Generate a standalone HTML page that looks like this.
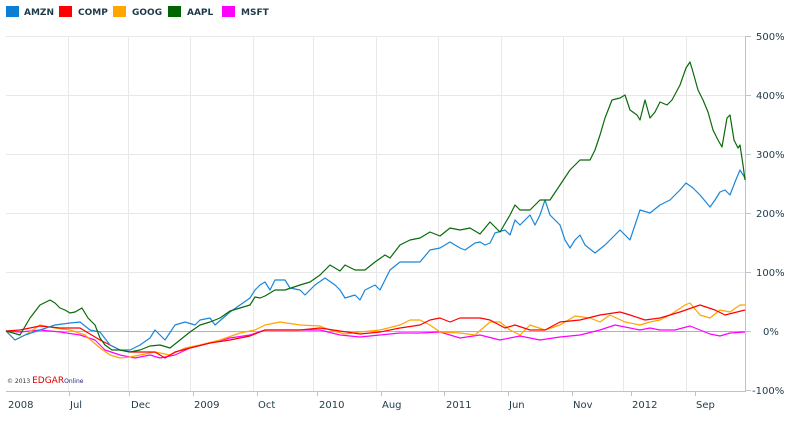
<!DOCTYPE html><html><head><style>
body{margin:0;background:#fff;width:805px;height:416px;overflow:hidden;font-family:"Liberation Sans",sans-serif}
</style></head><body>
<svg width="805" height="416" xmlns="http://www.w3.org/2000/svg" font-family="'DejaVu Sans','Liberation Sans',sans-serif">
<g font-size="9" font-weight="bold" fill="#1e3a4a">
<rect x="6" y="6" width="13" height="11" fill="#0a7fd4"/><text x="24" y="15">AMZN</text>
<rect x="59" y="6" width="13" height="11" fill="#f00"/><text x="78" y="15">COMP</text>
<rect x="113" y="6" width="13" height="11" fill="#ffa500"/><text x="132" y="15">GOOG</text>
<rect x="168" y="6" width="13" height="11" fill="#006400"/><text x="187" y="15">AAPL</text>
<rect x="222" y="6" width="13" height="11" fill="#f0f"/><text x="241" y="15">MSFT</text>
</g>
<g stroke="#e8e8e8" stroke-width="1">
<line x1="6" y1="36.5" x2="745" y2="36.5"/><line x1="6" y1="95.5" x2="745" y2="95.5"/><line x1="6" y1="154.5" x2="745" y2="154.5"/><line x1="6" y1="213.5" x2="745" y2="213.5"/><line x1="6" y1="272.5" x2="745" y2="272.5"/>
<line x1="68.5" y1="36" x2="68.5" y2="391"/><line x1="128.5" y1="36" x2="128.5" y2="391"/><line x1="190.5" y1="36" x2="190.5" y2="391"/><line x1="253.5" y1="36" x2="253.5" y2="391"/><line x1="313.5" y1="36" x2="313.5" y2="391"/><line x1="376.5" y1="36" x2="376.5" y2="391"/><line x1="438.5" y1="36" x2="438.5" y2="391"/><line x1="501.5" y1="36" x2="501.5" y2="391"/><line x1="563.5" y1="36" x2="563.5" y2="391"/><line x1="623.5" y1="36" x2="623.5" y2="391"/><line x1="686.5" y1="36" x2="686.5" y2="391"/>
</g>
<line x1="6" y1="331.5" x2="745" y2="331.5" stroke="#a8b4c0"/>
<g stroke="#b8c4d0"><line x1="6" y1="391.5" x2="745" y2="391.5"/><line x1="745.5" y1="36" x2="745.5" y2="392"/>
<line x1="745" y1="36.5" x2="751" y2="36.5"/><line x1="745" y1="95.5" x2="751" y2="95.5"/><line x1="745" y1="154.5" x2="751" y2="154.5"/><line x1="745" y1="213.5" x2="751" y2="213.5"/><line x1="745" y1="272.5" x2="751" y2="272.5"/><line x1="745" y1="331.5" x2="751" y2="331.5"/><line x1="745" y1="390.5" x2="751" y2="390.5"/>
<line x1="69.5" y1="391" x2="69.5" y2="396"/><line x1="129.5" y1="391" x2="129.5" y2="396"/><line x1="193.5" y1="391" x2="193.5" y2="396"/><line x1="257.5" y1="391" x2="257.5" y2="396"/><line x1="317.5" y1="391" x2="317.5" y2="396"/><line x1="381.5" y1="391" x2="381.5" y2="396"/><line x1="444.5" y1="391" x2="444.5" y2="396"/><line x1="508.5" y1="391" x2="508.5" y2="396"/><line x1="572.5" y1="391" x2="572.5" y2="396"/><line x1="631.5" y1="391" x2="631.5" y2="396"/><line x1="695.5" y1="391" x2="695.5" y2="396"/></g>
<g font-size="10" fill="#1e3a4a">
<text x="756" y="40">500%</text><text x="756" y="99">400%</text><text x="756" y="158">300%</text><text x="756" y="217">200%</text><text x="756" y="276">100%</text><text x="763" y="335">0%</text><text x="752" y="394">-100%</text>
<text x="8" y="408">2008</text><text x="70" y="408">Jul</text><text x="131" y="408">Dec</text><text x="194" y="408">2009</text><text x="258" y="408">Oct</text><text x="319" y="408">2010</text><text x="382" y="408">Aug</text><text x="446" y="408">2011</text><text x="509" y="408">Jun</text><text x="573" y="408">Nov</text><text x="632" y="408">2012</text><text x="696" y="408">Sep</text>
</g>
<text x="7" y="383" font-size="6" fill="#333">© 2013 <tspan font-size="9" fill="#d00">EDGAR</tspan><tspan fill="#1a237e">Online</tspan></text>
<g fill="none" stroke-width="1.2" stroke-linejoin="round">
<polyline stroke="#ff00ff" points="6,331 20,332 40,330 60,332 80,335 95,340 105,350 120,355 135,358 150,355 160,358 175,355 190,348 210,343 230,338 250,335 265,330 280,330 300,330 320,330 340,335 360,337 380,335 400,333 420,333 440,332 460,338 480,335 500,340 520,336 540,340 560,337 580,335 600,330 615,325 625,327 640,330 650,328 660,330 675,330 690,326 700,330 710,334 720,336 730,333 745,332"/>
<polyline stroke="#ffa500" points="6,331 15,340 25,335 40,325 55,328 70,330 85,335 100,348 110,355 120,358 130,357 140,355 155,352 170,355 185,348 200,345 220,340 240,333 255,330 265,325 280,322 300,325 320,326 330,330 345,334 360,332 380,330 400,325 410,320 420,320 430,325 440,332 460,333 475,335 490,322 500,322 510,330 520,335 530,325 545,330 560,325 575,316 590,318 600,322 610,315 625,322 640,325 650,322 660,320 670,315 685,305 690,303 700,315 710,318 720,310 730,312 740,305 745,305"/>
<polyline stroke="#ff0000" points="6,331 20,330 40,326 60,328 80,328 100,340 110,345 120,350 130,352 140,352 155,352 165,358 175,352 190,348 210,343 230,340 250,336 265,330 280,330 300,330 320,328 340,331 360,334 380,332 400,328 420,325 430,320 440,318 450,322 460,318 480,318 490,320 505,328 515,325 530,330 545,330 560,322 580,320 600,315 620,312 630,315 645,320 660,318 680,312 700,305 715,310 725,315 745,310"/>
<polyline stroke="#1a87d8" points="6,331 15,340 25,335 40,330 55,325 70,323 80,322 90,330 100,332 110,345 120,350 130,350 140,345 150,338 155,330 165,340 175,325 185,322 195,325 200,320 210,318 215,325 230,312 240,305 250,298 255,290 260,285 265,282 270,290 275,280 285,280 290,288 300,290 305,295 315,285 325,278 335,285 340,290 345,298 355,295 360,300 365,290 375,285 380,290 390,270 400,262 410,262 420,262 430,250 440,248 450,242 460,248 465,250 475,243 480,242 485,245 490,243 495,233 505,230 510,235 515,220 520,225 530,215 535,225 540,215 545,200 550,215 560,225 565,240 570,248 575,240 580,235 585,245 595,253 605,245 610,240 620,230 625,235 630,240 635,225 640,210 650,213 660,205 670,200 680,190 686,183 693,188 700,195 710,207 715,200 720,192 725,190 730,195 735,182 740,170 745,178"/>
<polyline stroke="#0a6a0a" points="6,331 20,335 30,318 40,305 50,300 55,303 60,308 65,310 70,313 75,312 82,308 88,318 95,325 100,338 105,345 112,350 120,350 130,352 140,350 150,346 160,345 170,348 180,340 190,332 200,325 210,322 220,318 230,311 240,308 250,305 255,297 260,298 265,296 275,290 285,290 300,285 310,282 320,275 330,265 335,268 340,271 345,265 355,270 365,270 375,262 385,255 390,258 400,245 410,240 420,238 430,232 440,236 450,228 460,230 470,228 480,234 490,222 500,232 510,215 515,205 520,210 530,210 540,200 550,200 560,185 570,170 580,160 590,160 595,150 600,135 605,118 612,100 620,98 625,95 630,110 637,115 640,120 645,100 650,118 655,112 660,102 667,105 672,100 680,85 686,68 690,62 693,72 698,90 703,100 708,112 713,130 718,140 722,147 727,118 730,115 734,140 738,148 740,145 743,165 745,180"/>
</g>
</svg>
</body></html>
